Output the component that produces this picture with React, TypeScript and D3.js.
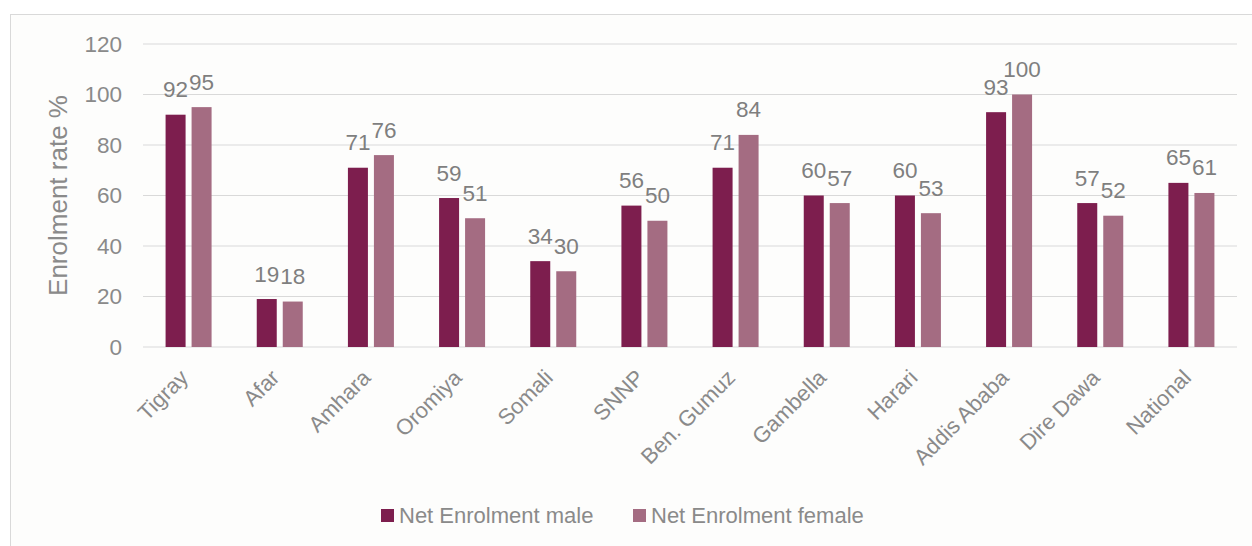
import React from "react";
import * as d3 from "d3";

const categories = ["Tigray", "Afar", "Amhara", "Oromiya", "Somali", "SNNP", "Ben. Gumuz", "Gambella", "Harari", "Addis Ababa", "Dire Dawa", "National"];
const maleValues = [92, 19, 71, 59, 34, 56, 71, 60, 60, 93, 57, 65];
const femaleValues = [95, 18, 76, 51, 30, 50, 84, 57, 53, 100, 52, 61];
const seriesNames = ["Net Enrolment male", "Net Enrolment female"];
const yTicks = [0, 20, 40, 60, 80, 100, 120];

const W = 1252, H = 546;
const left = 143, right = 1237, top = 44, bottom = 347;
const colors = ["#7d1e4e", "#a46c82"];
const font = "'Liberation Sans', Arial, sans-serif";

export default function App() {
  const x = d3.scaleBand<string>().domain(categories).range([left, right]).padding(0);
  const y = d3.scaleLinear().domain([0, 120]).range([bottom, top]);
  const inner = d3.scaleBand<string>().domain(["m", "f"]).range([0, 46]).paddingInner(0.2308).paddingOuter(0);
  const series = [maleValues, femaleValues];
  const keys = ["m", "f"];

  return (
    <svg width={W} height={H} style={{ position: "absolute", left: 0, top: 0, background: "#fff" }} fontFamily={font}>
      <rect x={10.5} y={14.5} width={1260} height={560} fill="#fdfdfc" stroke="#d9d9d9" strokeWidth={1} />
      {yTicks.map((t) => (
        <g key={t}>
          <line x1={left} x2={right} y1={y(t)} y2={y(t)} stroke="#d9d9d9" strokeWidth={1.2} />
          <text x={122} y={y(t)} dy="0.35em" textAnchor="end" fontSize={22.5} fill="#8a8a8a">{t}</text>
        </g>
      ))}
      <text transform={`translate(67,${(top + bottom) / 2}) rotate(-90)`} textAnchor="middle" fontSize={26} fill="#8a8a8a">Enrolment rate %</text>
      {categories.map((c, i) => {
        const cx = (x(c) as number) + x.bandwidth() / 2;
        return (
          <g key={c}>
            {series.map((vals, s) => {
              const bx = cx - 23 + (inner(keys[s]) as number);
              const v = vals[i];
              return (
                <g key={s}>
                  <rect x={bx} y={y(v)} width={inner.bandwidth()} height={bottom - y(v)} fill={colors[s]} />
                  <text x={bx + inner.bandwidth() / 2} y={y(v) - 17.5} textAnchor="middle" fontSize={22.5} fill="#7f7f7f">{v}</text>
                </g>
              );
            })}
            <text transform={`translate(${cx + 1},${379}) rotate(-45)`} textAnchor="end" fontSize={22} fill="#8a8a8a">{c}</text>
          </g>
        );
      })}
      {seriesNames.map((n, s) => {
        const lx = s === 0 ? 381 : 633;
        return (
          <g key={n}>
            <rect x={lx} y={509} width={13} height={13} fill={colors[s]} />
            <text x={lx + 18} y={523} fontSize={22} fill="#8a8a8a">{n}</text>
          </g>
        );
      })}
    </svg>
  );
}
